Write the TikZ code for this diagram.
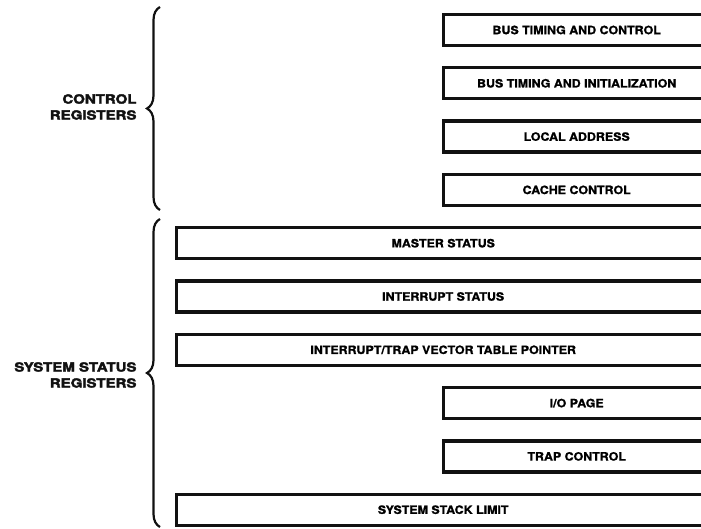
\documentclass[tikz,border=0pt]{standalone}
\usepackage{fontspec}
\setmainfont{TeX Gyre Heros}
\newfontfamily\regfont{texgyreheros-bold.otf}[FakeStretch=1.08,FakeBold=1.2]
\newfontfamily\groupfont{texgyreheros-bold.otf}[FakeStretch=1.2,FakeBold=3]
\usetikzlibrary{decorations.pathreplacing}
\definecolor{ink}{HTML}{111111}

\begin{document}
\begin{tikzpicture}[x=1pt,y=-1pt,
  reg/.style={draw=ink, line width=3.4pt, minimum height=31pt, inner sep=0pt, anchor=west,
    font=\regfont\fontsize{11.5}{12}\selectfont},
  short reg/.style={reg, minimum width=266pt},
  long reg/.style={reg, minimum width=533pt},
  group/.style={anchor=east, align=right, text=ink,
    font=\groupfont\fontsize{12.5}{16}\selectfont},
  group brace/.style={draw=ink, line width=2.2pt, decorate,
    decoration={brace, amplitude=13pt}}]
\useasboundingbox (0,0) rectangle (701,529);
\node[short reg] (bustc) at (442,30) {BUS TIMING AND CONTROL};
\node[short reg] (busti) at (442,83.3) {BUS TIMING AND INITIALIZATION};
\node[short reg] (locaddr) at (442,136.6) {LOCAL ADDRESS};
\node[short reg] (cachectl) at (442,189.9) {CACHE CONTROL};
\node[long reg] (mstat) at (175,243.2) {MASTER STATUS};
\node[long reg] (istat) at (175,296.5) {INTERRUPT STATUS};
\node[long reg] (ivtp) at (175,349.8) {INTERRUPT/TRAP VECTOR TABLE POINTER};
\node[short reg] (iopage) at (442,403.1) {I/O PAGE};
\node[short reg] (trapctl) at (442,456.4) {TRAP CONTROL};
\node[long reg] (sslimit) at (175,509.7) {SYSTEM STACK LIMIT};
\coordinate (ctltop) at (160,7);
\coordinate (ctlbot) at (160,210);
\coordinate (systop) at (160,219);
\coordinate (sysbot) at (160,527);
\draw[group brace] (ctlbot) -- (ctltop);
\draw[group brace] (sysbot) -- (systop);
\node[group] (ctlregs) at (140,107) {CONTROL\\REGISTERS};
\node[group] (sysregs) at (140,375) {SYSTEM STATUS\\REGISTERS};
\end{tikzpicture}
\end{document}
